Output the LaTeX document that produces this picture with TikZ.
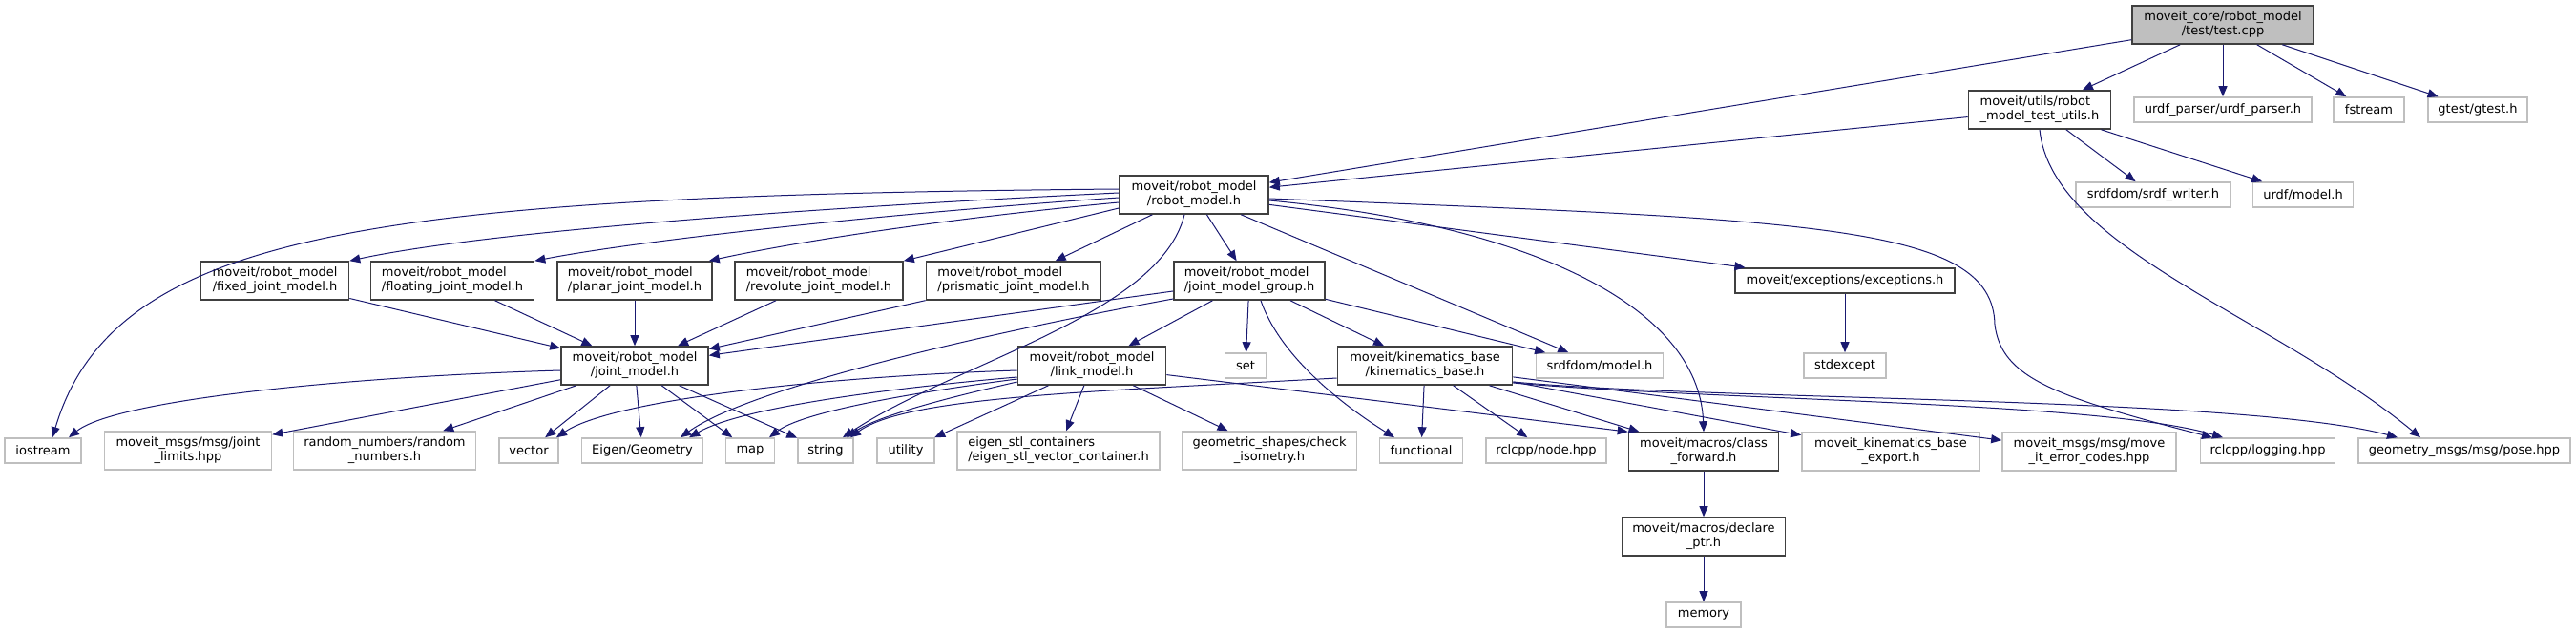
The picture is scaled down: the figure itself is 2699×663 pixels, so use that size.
\documentclass[tikz,border=0pt]{standalone}
\usepackage{fontspec}
\setmainfont{DejaVu Sans}
\usetikzlibrary{arrows.meta}
\definecolor{edgeblue}{HTML}{191970}
\definecolor{extgray}{HTML}{BFBFBF}
\definecolor{docgray}{HTML}{404040}
% first line flush left, last line centred (dot style labels)
\newcommand{\twoline}[2]{\begin{tabular}{@{}l@{}}#1\\\multicolumn{1}{@{}c@{}}{#2}\end{tabular}}

\begin{document}
\begin{tikzpicture}[x=1pt, y=1pt,
    box/.style={rectangle, inner sep=0pt, line width=1.6pt, fill=white,
                font=\fontsize{13}{15}\selectfont},
    doc/.style={box, draw=docgray, minimum height=40pt},
    ext/.style={box, draw=extgray, minimum height=26pt},
    root/.style={doc, fill=extgray},
    incl/.style={draw=edgeblue, line width=1pt, -{Triangle[length=11pt, width=9pt]}}]
  \useasboundingbox (0,0) rectangle (2699,-663);

  % top of the graph
  \node[root, minimum width=190pt] (test) at (2329,-26) {\twoline{moveit\_core/robot\_model}{/test/test.cpp}};
  \node[doc, minimum width=149pt] (utils) at (2137,-115) {\twoline{moveit/utils/robot}{\_model\_test\_utils.h}};
  \node[ext, minimum width=186pt] (urdfparser) at (2329,-115) {urdf\_parser/urdf\_parser.h};
  \node[ext, minimum width=74pt] (fstream) at (2482,-115) {fstream};
  \node[ext, minimum width=104pt] (gtest) at (2596,-115) {gtest/gtest.h};
  \node[doc, minimum width=156pt] (robotmodel) at (1251,-204) {\twoline{moveit/robot\_model}{/robot\_model.h}};
  \node[ext, minimum width=162pt] (srdfwriter) at (2256,-204) {srdfdom/srdf\_writer.h};
  \node[ext, minimum width=105pt] (urdfmodel) at (2413,-204) {urdf/model.h};

  % joint model headers
  \node[doc, minimum width=155pt] (fixedjm) at (288,-294) {\twoline{moveit/robot\_model}{/fixed\_joint\_model.h}};
  \node[doc, minimum width=171pt] (floatingjm) at (474,-294) {\twoline{moveit/robot\_model}{/floating\_joint\_model.h}};
  \node[doc, minimum width=162pt] (planarjm) at (665,-294) {\twoline{moveit/robot\_model}{/planar\_joint\_model.h}};
  \node[doc, minimum width=176pt] (revolutejm) at (858,-294) {\twoline{moveit/robot\_model}{/revolute\_joint\_model.h}};
  \node[doc, minimum width=183pt] (prismaticjm) at (1062,-294) {\twoline{moveit/robot\_model}{/prismatic\_joint\_model.h}};
  \node[doc, minimum width=158pt] (jmgroup) at (1309,-294) {\twoline{moveit/robot\_model}{/joint\_model\_group.h}};
  \node[doc, minimum width=230pt, minimum height=26pt] (exceptions) at (1933,-294) {moveit/exceptions/exceptions.h};

  \node[doc, minimum width=154pt] (jointmodel) at (665,-383) {\twoline{moveit/robot\_model}{/joint\_model.h}};
  \node[doc, minimum width=155pt] (linkmodel) at (1144,-383) {\twoline{moveit/robot\_model}{/link\_model.h}};
  \node[ext, minimum width=43pt] (set) at (1305,-383) {set};
  \node[doc, minimum width=183pt] (kinbase) at (1493,-383) {\twoline{moveit/kinematics\_base}{/kinematics\_base.h}};
  \node[ext, minimum width=133pt] (srdfmodel) at (1676,-383) {srdfdom/model.h};
  \node[ext, minimum width=86pt] (stdexcept) at (1933,-383) {stdexcept};

  % bottom row
  \node[ext, minimum width=80pt] (iostream) at (45,-472) {iostream};
  \node[ext, minimum width=175pt, minimum height=40pt] (jointlimits) at (197,-472) {\twoline{moveit\_msgs/msg/joint}{\_limits.hpp}};
  \node[ext, minimum width=191pt, minimum height=40pt] (random) at (403,-472) {\twoline{random\_numbers/random}{\_numbers.h}};
  \node[ext, minimum width=62pt] (vector) at (554,-472) {vector};
  \node[ext, minimum width=127pt] (eigengeom) at (673,-472) {Eigen/Geometry};
  \node[ext, minimum width=51pt] (map) at (786,-472) {map};
  \node[ext, minimum width=58pt] (string) at (865,-472) {string};
  \node[ext, minimum width=60pt] (utility) at (949,-472) {utility};
  \node[ext, minimum width=212pt, minimum height=40pt] (eigenstl) at (1109,-472) {\twoline{eigen\_stl\_containers}{/eigen\_stl\_vector\_container.h}};
  \node[ext, minimum width=183pt, minimum height=40pt] (geometric) at (1330,-472) {\twoline{geometric\_shapes/check}{\_isometry.h}};
  \node[ext, minimum width=87pt] (functional) at (1489,-472) {functional};
  \node[ext, minimum width=126pt] (nodehpp) at (1620,-472) {rclcpp/node.hpp};
  \node[doc, minimum width=157pt] (classfwd) at (1785,-473) {\twoline{moveit/macros/class}{\_forward.h}};
  \node[ext, minimum width=186pt, minimum height=40pt] (export) at (1981,-473) {\twoline{moveit\_kinematics\_base}{\_export.h}};
  \node[ext, minimum width=182pt, minimum height=40pt] (errorcodes) at (2189,-473) {\twoline{moveit\_msgs/msg/move}{\_it\_error\_codes.hpp}};
  \node[ext, minimum width=141pt] (logging) at (2376,-472) {rclcpp/logging.hpp};
  \node[ext, minimum width=222pt] (pose) at (2582,-472) {geometry\_msgs/msg/pose.hpp};

  \node[doc, minimum width=171pt] (declare) at (1785,-562) {\twoline{moveit/macros/declare}{\_ptr.h}};
  \node[ext, minimum width=78pt] (memory) at (1785,-644) {memory};

  % includes of test.cpp and the test utils
  \draw[incl] (test) -- (robotmodel);
  \draw[incl] (test) -- (utils);
  \draw[incl] (test) -- (urdfparser);
  \draw[incl] (test) -- (fstream);
  \draw[incl] (test) -- (gtest);
  \draw[incl] (utils) -- (robotmodel);
  \draw[incl] (utils) -- (srdfwriter);
  \draw[incl] (utils) -- (urdfmodel);
  \draw[incl] (utils.south) .. controls (2150,-260) and (2380,-330) .. ([xshift=-46pt]pose.north);

  % robot_model.h
  \draw[incl] ([yshift=6pt]robotmodel.west) .. controls (400,-205) and (120,-240) .. ([xshift=10pt]iostream.north);
  \draw[incl] ([yshift=2pt]robotmodel.west) .. controls (900,-215) and (520,-240) .. (fixedjm.north east);
  \draw[incl] ([yshift=-3pt]robotmodel.west) .. controls (950,-222) and (680,-250) .. (floatingjm.north east);
  \draw[incl] ([yshift=-8pt]robotmodel.west) .. controls (1000,-228) and (840,-252) .. ([xshift=-4pt]planarjm.north east);
  \draw[incl] ([yshift=-14pt]robotmodel.west) -- (revolutejm.north east);
  \draw[incl] (robotmodel) -- (prismaticjm);
  \draw[incl] (robotmodel) -- (jmgroup);
  \draw[incl] ([xshift=-10pt]robotmodel.south) .. controls (1215,-330) and (1000,-380) .. ([xshift=18pt]string.north);
  \draw[incl] (robotmodel) -- (srdfmodel);
  \draw[incl] (robotmodel) -- (exceptions);
  \draw[incl] ([yshift=-6pt]robotmodel.east) .. controls (1600,-235) and (1780,-320) .. (classfwd.north);
  \draw[incl] ([yshift=-4pt]robotmodel.east) .. controls (1900,-230) and (2088,-235) .. (2090,-340)
    .. controls (2097,-395) and (2150,-415) .. ([xshift=-58pt]logging.north);

  % joint models
  \draw[incl] (fixedjm) -- (jointmodel);
  \draw[incl] (floatingjm) -- (jointmodel);
  \draw[incl] (planarjm) -- (jointmodel);
  \draw[incl] (revolutejm) -- (jointmodel);
  \draw[incl] (prismaticjm) -- (jointmodel);

  % joint_model_group.h
  \draw[incl] (jmgroup) -- (jointmodel);
  \draw[incl] ([yshift=-19pt]jmgroup.west) .. controls (1000,-355) and (780,-410) .. ([xshift=40pt]eigengeom.north);
  \draw[incl] (jmgroup) -- (linkmodel);
  \draw[incl] (jmgroup) -- (set);
  \draw[incl] ([xshift=12pt]jmgroup.south) .. controls (1340,-370) and (1400,-420) .. ([xshift=-28pt]functional.north);
  \draw[incl] (jmgroup) -- (kinbase);
  \draw[incl] (jmgroup) -- (srdfmodel);
  \draw[incl] (exceptions) -- (stdexcept);

  % joint_model.h
  \draw[incl] ([yshift=-5pt]jointmodel.west) .. controls (350,-395) and (120,-420) .. ([xshift=27pt]iostream.north);
  \draw[incl] (jointmodel) -- (jointlimits);
  \draw[incl] (jointmodel) -- (random);
  \draw[incl] (jointmodel) -- (vector);
  \draw[incl] (jointmodel) -- (eigengeom);
  \draw[incl] (jointmodel) -- (map);
  \draw[incl] (jointmodel) -- (string);

  % link_model.h
  \draw[incl] ([yshift=-5pt]linkmodel.west) .. controls (850,-395) and (640,-420) .. ([xshift=29pt]vector.north);
  \draw[incl] ([yshift=-12pt]linkmodel.west) .. controls (950,-405) and (780,-425) .. ([xshift=49pt]eigengeom.north);
  \draw[incl] ([yshift=-14pt]linkmodel.west) .. controls (950,-412) and (840,-432) .. ([xshift=20pt]map.north);
  \draw[incl] ([yshift=-17pt]linkmodel.west) .. controls (1000,-415) and (920,-435) .. ([xshift=22pt]string.north);
  \draw[incl] (linkmodel) -- (utility);
  \draw[incl] (linkmodel) -- (eigenstl);
  \draw[incl] (linkmodel) -- (geometric);
  \draw[incl] (linkmodel) -- (classfwd.north west);

  % kinematics_base.h
  \draw[incl] ([yshift=-13pt]kinbase.west) .. controls (1150,-410) and (950,-415) .. ([xshift=26pt]string.north);
  \draw[incl] (kinbase) -- (functional);
  \draw[incl] (kinbase) -- (nodehpp);
  \draw[incl] (kinbase) -- (classfwd);
  \draw[incl] (kinbase) -- (export);
  \draw[incl] (kinbase) -- (errorcodes);
  \draw[incl] ([yshift=-18pt]kinbase.east) .. controls (1800,-420) and (2200,-420) .. ([xshift=-47pt]logging.north);
  \draw[incl] ([yshift=-17pt]kinbase.east) .. controls (1800,-420) and (2350,-415) .. ([xshift=-70pt]pose.north);

  % macros
  \draw[incl] (classfwd) -- (declare);
  \draw[incl] (declare) -- (memory);
\end{tikzpicture}
\end{document}
